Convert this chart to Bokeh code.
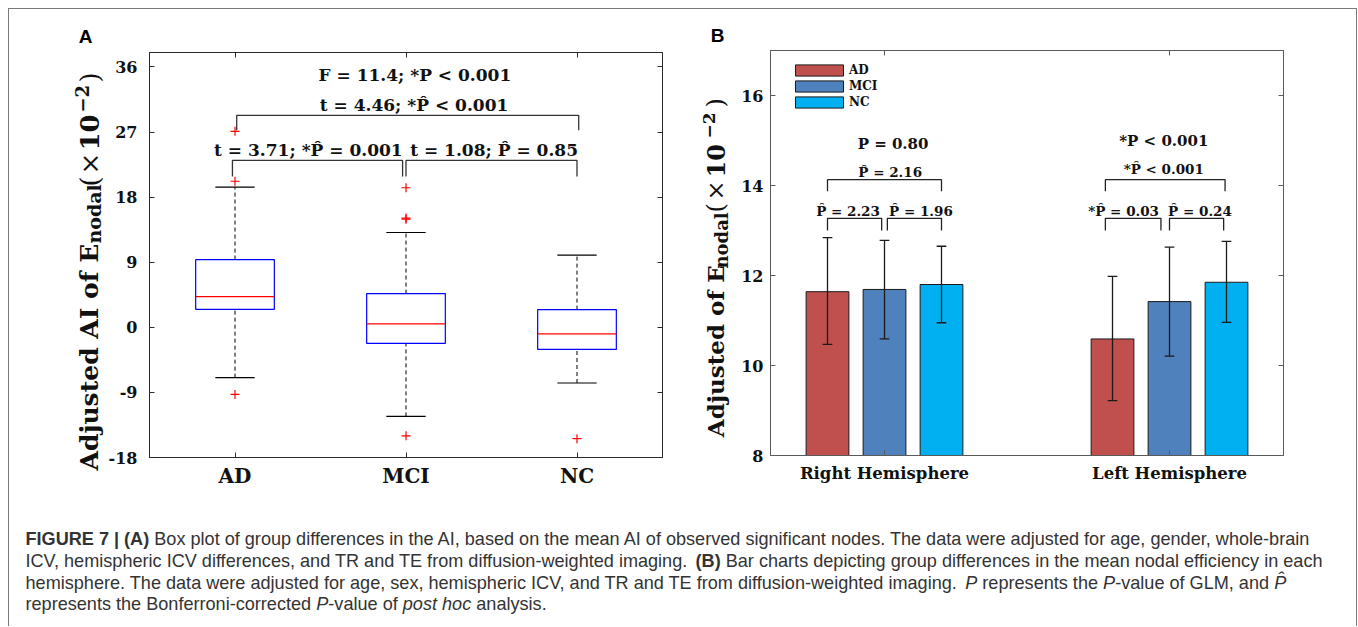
import math
from bokeh.plotting import figure
from bokeh.models import ColumnDataSource, FixedTicker, LinearAxis, Range1d, Plot
from bokeh.layouts import column, row
from bokeh.transform import dodge
from bokeh.embed import file_html
from bokeh.resources import INLINE
from bokeh.core.properties import value

SERIF = "DejaVu Serif"
SANS = "Liberation Sans"
FA = {"frame_align": False} if "frame_align" in Plot.properties() else {}

# ---------------- data : panel A (box plot) ----------------
groups_a = ["AD", "MCI", "NC"]
q1_a = [2.49, -2.22, -3.05]
med_a = [4.25, 0.47, -0.91]
q3_a = [9.37, 4.67, 2.45]
whisk_lo_a = [-6.96, -12.32, -7.70]
whisk_hi_a = [19.39, 13.11, 9.97]
outlier_group = ["AD", "AD", "AD", "MCI", "MCI", "MCI", "MCI", "NC"]
outlier_vals = [27.1, 20.2, -9.28, 19.3, 15.1, 14.95, -15.0, -15.4]
yticks_a = [-18, -9, 0, 9, 18, 27, 36]
stats_a = ["F = 11.4; *P < 0.001", "t = 4.46; *P\u0302 < 0.001",
           "t = 3.71; *P\u0302 = 0.001", "t = 1.08; P\u0302 = 0.85"]

# ---------------- data : panel B (bar chart) ----------------
hemis = ["Right Hemisphere", "Left Hemisphere"]
series_b = ["AD", "MCI", "NC"]
mean_right = [11.64, 11.69, 11.80]
mean_left = [10.59, 11.42, 11.85]
err_lo_right = [10.47, 10.59, 10.95]
err_hi_right = [12.84, 12.78, 12.65]
err_lo_left = [9.22, 10.21, 10.96]
err_hi_left = [11.98, 12.63, 12.76]
yticks_b = [8, 10, 12, 14, 16]
stats_b_right = ["P = 0.80", "P\u0302 = 2.16", "P\u0302 = 2.23", "P\u0302 = 1.96"]
stats_b_left = ["*P < 0.001", "*P\u0302 < 0.001", "*P\u0302 = 0.03", "P\u0302 = 0.24"]

colors_b = ["#C0504D", "#4F81BD", "#00B0F0"]
AX_A = "#2b2b2b"
AX_B = "#5a5a5a"
H_TOP = 484


def style_axis(ax, color, ticks, labels, size, standoff):
    ax.ticker = FixedTicker(ticks=ticks)
    ax.major_label_overrides = {t: l for t, l in zip(ticks, labels)}
    ax.major_tick_in = 5
    ax.major_tick_out = 0
    ax.minor_tick_line_color = None
    ax.axis_line_color = color
    ax.major_tick_line_color = color
    ax.major_label_text_font = SERIF
    ax.major_label_text_font_style = "bold"
    ax.major_label_text_font_size = size
    ax.major_label_text_color = "#111111"
    ax.major_label_standoff = standoff


def label_strip(width, pieces, panel_letter, letter_xy):
    """A blank strip (canvas pixels as data units, y measured from the top)
    that carries the rotated y-axis title and the panel letter."""
    f = figure(width=width, height=H_TOP, x_range=Range1d(0, width), y_range=Range1d(0, H_TOP),
               x_axis_type=None, y_axis_type=None, min_border=0,
               output_backend="svg", toolbar_location=None, **FA)
    f.outline_line_color = None
    f.grid.visible = False
    for (txt, x, y, size, style) in pieces:
        f.text(x=[x], y=[H_TOP - y], text=[txt], angle=math.pi / 2, text_align="left",
               text_baseline="middle", text_font=value(SERIF), text_font_size=size,
               text_font_style=style, text_color="#111111")
    f.text(x=[letter_xy[0]], y=[H_TOP - letter_xy[1]], text=[panel_letter], text_align="center",
           text_baseline="middle", text_font=value(SANS), text_font_style="bold",
           text_font_size="19px", text_color="black")
    return f


# ====================== Panel A ======================
labA = label_strip(96, [
    ("Adjusted AI of E", 80.0, 461.0, "25px", "bold"),
    ("nodal", 84.0, 234.0, "19px", "bold"),
    ("(", 80.0, 177.0, "26px", "normal"),
    ("\u00d7", 80.0, 165.0, "26px", "normal"),
    ("10", 80.0, 141.0, "26px", "bold"),
    ("\u22122", 72.0, 103.0, "18px", "bold"),
    (")", 80.0, 73.0, "26px", "normal"),
], "A", (76, 26.5))

pa = figure(frame_width=513, frame_height=405, x_range=Range1d(0.5, 3.5), y_range=Range1d(-18, 38),
            min_border_left=43, min_border_right=34, min_border_top=43, min_border_bottom=36,
            output_backend="svg", toolbar_location=None, **FA)
pa.grid.visible = False
pa.outline_line_color = AX_A
pa.add_layout(LinearAxis(), "right")
pa.add_layout(LinearAxis(), "above")
xa = list(range(1, len(groups_a) + 1))
style_axis(pa.left[0], AX_A, yticks_a, [str(t) for t in yticks_a], "16px", 12)
style_axis(pa.right[0], AX_A, yticks_a, [""] * len(yticks_a), "1px", 0)
style_axis(pa.below[0], AX_A, xa, groups_a, "20px", 6)
style_axis(pa.above[0], AX_A, xa, [""] * len(xa), "1px", 0)

srcA = ColumnDataSource(dict(x=xa, q1=q1_a, med=med_a, q3=q3_a, lo=whisk_lo_a, hi=whisk_hi_a))
pa.segment(x0="x", x1="x", y0="q3", y1="hi", source=srcA, line_color="black", line_width=1, line_dash="4 3")
pa.segment(x0="x", x1="x", y0="lo", y1="q1", source=srcA, line_color="black", line_width=1, line_dash="4 3")
pa.segment(x0=dodge("x", -0.115), x1=dodge("x", 0.115), y0="hi", y1="hi", source=srcA, line_color="black", line_width=1.2)
pa.segment(x0=dodge("x", -0.115), x1=dodge("x", 0.115), y0="lo", y1="lo", source=srcA, line_color="black", line_width=1.2)
pa.quad(left=dodge("x", -0.23), right=dodge("x", 0.23), bottom="q1", top="q3", source=srcA,
        fill_color=None, line_color="#0000FF", line_width=1.2)
pa.segment(x0=dodge("x", -0.23), x1=dodge("x", 0.23), y0="med", y1="med", source=srcA,
           line_color="#FF0000", line_width=1.2)
ox = [xa[groups_a.index(g)] for g in outlier_group]
pa.scatter(ox, outlier_vals, marker="cross", size=9, line_color="#FF0000", line_width=1.2)

# significance brackets (panel A)
brA_x0 = [1.01, 0.985, 2.0]
brA_x1 = [3.01, 1.98, 3.0]
brA_top = [29.31, 23.08, 23.08]
brA_leg = [27.24, 20.87, 20.87]
pa.multi_line(xs=[[a, a, b, b] for a, b in zip(brA_x0, brA_x1)],
              ys=[[l, t, t, l] for t, l in zip(brA_top, brA_leg)], line_color="#333333", line_width=1.3)
pa.text(x=[2.052, 2.047, 1.429, 2.515], y=[34.85, 30.7, 24.47, 24.47], text=stats_a,
        text_font=value(SERIF), text_font_style="bold", text_font_size="17px",
        text_align="center", text_baseline="middle", text_color="#111111")

# ====================== Panel B ======================
labB = label_strip(41, [
    ("Adjusted of E", 19.0, 427.7, "23px", "bold"),
    ("nodal", 24.5, 259.0, "18px", "bold"),
    ("(", 19.0, 203.0, "24px", "normal"),
    ("\u00d7", 19.0, 191.0, "24px", "normal"),
    ("10", 19.0, 168.0, "24px", "bold"),
    ("\u22122", 12.0, 129.0, "17px", "bold"),
    (")", 19.0, 98.0, "24px", "normal"),
], "B", (21, 26))

pb = figure(frame_width=513, frame_height=405, x_range=Range1d(0.6, 2.4), y_range=Range1d(8, 17),
            min_border_left=33, min_border_right=73, min_border_top=41, min_border_bottom=38,
            output_backend="svg", toolbar_location=None, **FA)
pb.grid.visible = False
pb.outline_line_color = AX_B
pb.add_layout(LinearAxis(), "right")
pb.add_layout(LinearAxis(), "above")
xb = list(range(1, len(hemis) + 1))
style_axis(pb.left[0], AX_B, yticks_b, [str(t) for t in yticks_b], "16px", 7)
style_axis(pb.right[0], AX_B, yticks_b, [""] * len(yticks_b), "1px", 0)
style_axis(pb.below[0], AX_B, xb, hemis, "16.5px", 8)
style_axis(pb.above[0], AX_B, xb, [""] * len(xb), "1px", 0)

offsets = [-0.2, 0.0, 0.2]
means = list(zip(mean_right, mean_left))
los = list(zip(err_lo_right, err_lo_left))
his = list(zip(err_hi_right, err_hi_left))
for i, name in enumerate(series_b):
    src = ColumnDataSource(dict(x=xb, top=list(means[i]), lo=list(los[i]), hi=list(his[i])))
    pb.vbar(x=dodge("x", offsets[i]), width=0.15, top="top", bottom=0, source=src,
            fill_color=colors_b[i], line_color="#1a1a1a", line_width=1, legend_label=name)
    pb.segment(x0=dodge("x", offsets[i]), x1=dodge("x", offsets[i]), y0="lo", y1="hi", source=src,
               line_color="#1a1a1a", line_width=1.3)
    pb.segment(x0=dodge("x", offsets[i] - 0.017), x1=dodge("x", offsets[i] + 0.017), y0="hi", y1="hi",
               source=src, line_color="#1a1a1a", line_width=1.3)
    pb.segment(x0=dodge("x", offsets[i] - 0.017), x1=dodge("x", offsets[i] + 0.017), y0="lo", y1="lo",
               source=src, line_color="#1a1a1a", line_width=1.3)

brB_x0 = [0.80, 0.80, 1.01, 1.775, 1.775, 2.0]
brB_x1 = [1.20, 0.99, 1.20, 2.195, 1.97, 2.19]
brB_top = [14.13, 13.27, 13.27, 14.13, 13.27, 13.27]
brB_leg = [13.87, 13.0, 13.0, 13.87, 13.0, 13.0]
pb.multi_line(xs=[[a, a, b, b] for a, b in zip(brB_x0, brB_x1)],
              ys=[[l, t, t, l] for t, l in zip(brB_top, brB_leg)], line_color="#222222", line_width=1.3)
pb.text(x=[1.03, 1.98], y=[14.93, 15.0], text=[stats_b_right[0], stats_b_left[0]],
        text_font=value(SERIF), text_font_style="bold", text_font_size="15px",
        text_align="center", text_baseline="middle", text_color="#111111")
pb.text(x=[1.02, 0.872, 1.128, 1.98, 1.839, 2.107], y=[14.30, 13.44, 13.44, 14.37, 13.44, 13.44],
        text=stats_b_right[1:] + stats_b_left[1:],
        text_font=value(SERIF), text_font_style="bold", text_font_size="13.5px",
        text_align="center", text_baseline="middle", text_color="#111111")

lg = pb.legend[0]
lg.location = (19, 346)
lg.orientation = "vertical"
lg.padding = 0
lg.margin = 0
lg.spacing = 2
lg.glyph_width = 60
lg.glyph_height = 14
lg.label_height = 14
lg.label_standoff = 0
lg.label_text_font = SERIF
lg.label_text_font_style = "bold"
lg.label_text_font_size = "12px"
lg.label_text_color = "#111111"
lg.border_line_color = None
lg.background_fill_alpha = 0

# ====================== Caption ======================
REG = {}
for ch, w in zip("abcdefghijklmnopqrstuvwxyz",
                 [556, 556, 500, 556, 556, 278, 556, 556, 222, 222, 500, 222, 833, 556, 556, 556, 556, 333, 500, 278, 556, 500, 722, 500, 500, 500]):
    REG[ch] = w
for ch, w in zip("ABCDEFGHIJKLMNOPQRSTUVWXYZ",
                 [667, 667, 722, 722, 667, 611, 778, 722, 278, 500, 667, 556, 833, 722, 778, 667, 778, 722, 667, 611, 722, 667, 944, 667, 667, 611]):
    REG[ch] = w
for ch in "0123456789":
    REG[ch] = 556
REG.update({" ": 278, ",": 278, ".": 278, "-": 333, "(": 333, ")": 333, "|": 260, ";": 278, ":": 278, "\u0302": 0})
BOLD = dict(REG)
BOLD.update({"A": 722, "B": 722, "G": 778, "R": 722, "U": 722, "|": 280})


def em(s, style):
    t = BOLD if style == "bold" else REG
    return sum(t.get(c, 556) for c in s) / 1000.0


caption = [
    [("FIGURE 7 | (A)", "bold"),
     (" Box plot of group differences in the AI, based on the mean AI of observed significant nodes. The data were adjusted for age, gender, whole-brain", "normal")],
    [("ICV, hemispheric ICV differences, and TR and TE from diffusion-weighted imaging. ", "normal"), ("(B)", "bold"),
     (" Bar charts depicting group differences in the mean nodal efficiency in each", "normal")],
    [("hemisphere. The data were adjusted for age, sex, hemispheric ICV, and TR and TE from diffusion-weighted imaging. ", "normal"),
     ("P", "italic"), (" represents the ", "normal"), ("P", "italic"), ("-value of GLM, and ", "normal"), ("P\u0302", "italic")],
    [("represents the Bonferroni-corrected ", "normal"), ("P", "italic"), ("-value of ", "normal"),
     ("post hoc", "italic"), (" analysis.", "normal")],
]
line_y = [45.5, 67.6, 89.0, 110.6]
cap_fs = 1288.0 / sum(em(s, st) for s, st in caption[0])
CAP_W = 96 + 590 + 41 + 619
CAP_H = 133

pc = figure(width=CAP_W, height=CAP_H, x_range=Range1d(0, CAP_W), y_range=Range1d(CAP_H, 0),
            x_axis_type=None, y_axis_type=None, min_border=0, output_backend="svg",
            toolbar_location=None, **FA)
pc.outline_line_color = None
pc.grid.visible = False
seg = {"normal": ([], [], []), "bold": ([], [], []), "italic": ([], [], [])}
for ln, yy in zip(caption, line_y):
    xx = 16.0
    for s, st in ln:
        lead = len(s) - len(s.lstrip(" "))
        seg[st][0].append(xx + em(s[:lead], st) * cap_fs)
        seg[st][1].append(yy)
        seg[st][2].append(s.strip(" "))
        xx += em(s, st) * cap_fs
for st, (sx, sy, stxt) in seg.items():
    pc.text(x=sx, y=sy, text=stxt, text_font=value(SANS), text_font_style=st,
            text_font_size=f"{cap_fs:.2f}px", text_baseline="alphabetic", text_align="left",
            text_color="#333333")

layout = column(row(labA, pa, labB, pb), pc,
                styles={"margin-left": "8px", "margin-top": "8px",
                        "border-left": "1px solid #7a7a7a", "border-top": "1px solid #7a7a7a",
                        "border-right": "1px solid #7a7a7a"})

open("out.html", "w").write(file_html(layout, INLINE))
